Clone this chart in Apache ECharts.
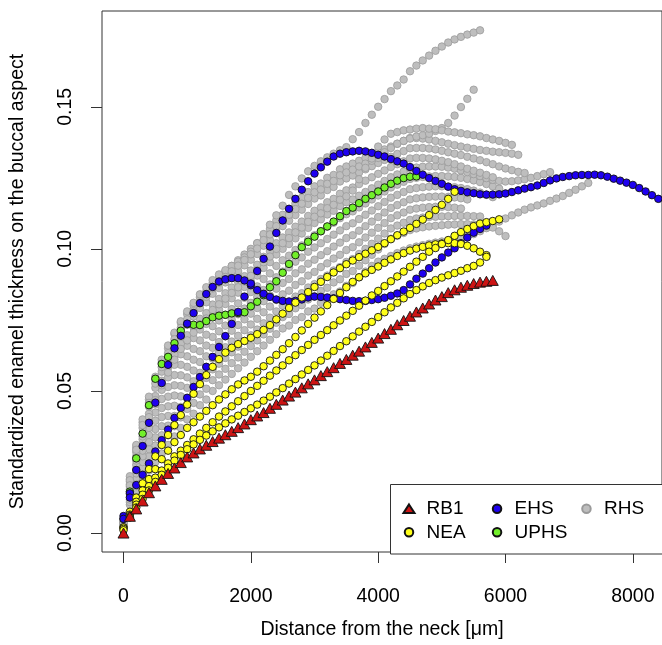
<!DOCTYPE html>
<html><head><meta charset="utf-8">
<script src="https://cdn.jsdelivr.net/npm/echarts@6/dist/echarts.min.js"></script>
<style>html,body{margin:0;padding:0;background:#fff}#c{width:662px;height:645px}</style>
</head><body><div id="c"></div>
<script>
// distance from the neck (µm), sampling positions shared by all profiles
const xs = [0,100,200,300,400,500,600,700,800,900,1000,1100,1200,1300,1400,1500,1600,1700,1800,1900,
2000,2100,2200,2300,2400,2500,2600,2700,2800,2900,3000,3100,3200,3300,3400,3500,3600,3700,3800,3900,
4000,4100,4200,4300,4400,4500,4600,4700,4800,4900,5000,5100,5200,5300,5400,5500,5600,5700,5800,5900,
6000,6100,6200,6300,6400,6500,6600,6700,6800,6900,7000,7100,7200,7300,7400,7500,7600,7700,7800,7900,
8000,8100,8200,8300,8400];
const xTicks = [0,2000,4000,6000,8000];
const yTicks = [0,0.05,0.10,0.15];

// RB1
const rb1 = [0,.0059,.0085,.0113,.0142,.0166,.0189,.0210,.0229,.0248,.0268,.0282,.0296,.0309,.0322,.0334,.0346,.0358,.0371,.0384,
.0399,.0412,.0424,.0439,.0453,.0468,.0482,.0496,.0511,.0525,.0539,.0554,.0568,.0582,.0597,.0611,.0626,.0640,.0655,.0671,
.0686,.0702,.0717,.0733,.0748,.0763,.0778,.0792,.0806,.0820,.0832,.0846,.0856,.0865,.0872,.0878,.0883,.0886,.0889];

// EHS
const ehsA = [.006,.014,.0222,.0306,.0388,.0459,.0528,.0592,.0650,.0694,.0737,.0774,.0809,.0841,.0866,.0885,.0893,.0897,.0897,.0889,
.0872,.0855,.0842,.0831,.0822,.0817,.0815,.0817,.0822,.0829,.0832,.0831,.0829,.0826,.0823,.0820,.0817,.0816,.0817,.0820,
.0823,.0828,.0835,.0843,.0855,.0875,.0895,.0913,.0932,.0952,.0970,.0987,.1002,.1020,.1040,.1057,.1070,.1082];
const ehsB = [.005,.0125,.0169,.0205,.0245,.0287,.0327,.0364,.0405,.0440,.0476,.0514,.0549,.0585,.0620,.0655,.0693,.0736,.0778,.0832,
.0878,.0922,.0965,.1008,.1056,.1100,.1141,.1176,.1208,.1238,.1265,.1287,.1307,.1325,.1335,.1340,.1343,.1345,.1343,.1338,
.1331,.1325,.1316,.1308,.1300,.1288,.1274,.1261,.1249,.1239,.1229,.1219,.1210,.1204,.1199,.1196,.1192,.1191,.1191,.1192,
.1195,.1200,.1206,.1212,.1217,.1223,.1232,.1241,.1248,.1253,.1256,.1259,.1260,.1260,.1261,.1259,.1254,.1247,.1240,.1233,
.1225,.1214,.1202,.1189,.1176];

// UPHS
const uphs = [.005,.0146,.0263,.0350,.0450,.0543,.0595,.0620,.0668,.0712,.0735,.0733,.0732,.0746,.0759,.0765,.0768,.0773,.0774,.0777,
.0798,.0814,.0837,.0865,.0886,.0916,.0947,.0978,.1006,.1025,.1043,.1062,.1079,.1096,.1115,.1133,.1145,.1161,.1176,.1189,
.1202,.1216,.1229,.1240,.1249,.1254,.1255];

// NEA
const nea1 = [.002,.0075,.0125,.0175,.0225,.027,.031,.0345,.038,.0415,.0452,.049,.0524,.0556,.0585,.0612,.0635,.0652,.0665,.0676,
.0687,.0700,.0715,.0732,.0752,.0772,.0792,.0811,.0829,.0848,.0866,.0884,.0901,.0917,.0932,.0946,.0959,.0971,.0983,.0995,
.1007,.1020,.1034,.1048,.1061,.1074,.1088,.1103,.1119,.1137,.1155,.1176,.1201];
const nea2 = [.002,.0065,.011,.015,.019,.0225,.026,.029,.032,.0345,.037,.039,.041,.043,.045,.047,.0488,.0506,.0523,.0537,
.055,.0568,.0587,.0607,.0627,.0647,.0668,.0690,.0713,.0736,.0758,.0780,.0802,.0824,.0845,.0865,.0884,.0900,.0914,.0926,
.0938,.0951,.0963,.0975,.0985,.0994,.1001,.1007,.1012,.1016,.1019,.1020,.1020,.1017,.1011,.1002,.0990,.0978];
const nea3 = [.0015,.006,.010,.0135,.0165,.0195,.022,.0245,.027,.029,.031,.033,.035,.037,.039,.041,.0428,.0446,.0464,.0482,
.050,.0518,.0536,.0554,.0572,.059,.0608,.0626,.0644,.0662,.068,.0697,.0714,.0731,.0748,.0765,.0782,.0800,.0818,.0836,
.0852,.0869,.0886,.0903,.092,.0937,.0955,.0972,.0990,.1003,.1017,.1031,.1046,.1059,.1070,.1080,.1089,.1094,.1098,.1104];
const nea4 = [.001,.0055,.009,.012,.015,.018,.0205,.023,.0255,.0275,.0295,.0312,.0328,.0343,.0358,.0372,.0386,.040,.0413,.0426,
.0439,.0452,.0466,.0480,.0495,.051,.0526,.0542,.0558,.0574,.059,.0607,.0624,.0641,.0658,.0675,.0692,.0709,.0726,.0743,
.076,.0777,.0794,.081,.0826,.0841,.0855,.0868,.088,.089,.0899,.0907,.0915,.0923,.0932,.094,.0952,.0972];

// RHS
const rhs0 = [.002,.010,.015,.019,.022,.025,.028,.031,.034,.037,.040,.042,.045,.047,.050,.052,.054,.056,.058,.060,
.062,.064,.066,.068,.070,.072,.073,.075,.076,.078,.079,.081,.082,.084,.085,.087,.088,.090,.092,.094,
.0955,.0965,.0975,.0985,.0994,.1002,.1008,.1013,.1018,.1022,.1026,.103,.1034,.1039,.1045,.1052,.1062,.1073,.1085,.1096,
.1107,.1118,.1128,.1138,.1146,.1153,.116,.1169,.1177,.1186,.1197,.1208,.122,.1232];
const rhs1 = [.0022,.0109,.0165,.021,.0245,.0279,.0312,.0344,.0376,.0407,.0437,.0458,.0488,.0508,.0538,.0558,.0578,.0598,.0618,.0638,
.0658,.0678,.0699,.0719,.074,.076,.0771,.0791,.0802,.0822,.0833,.0852,.0863,.0882,.0893,.0912,.0922,.0941,.096,.0979,
.0998,.1017,.1036,.1046,.1056,.1066,.1072,.1076,.1079,.1081,.1083,.1085,.1086,.1087,.1087,.1086,.1084,.108,.1075,.1062,.1045];
const rhs2 = [.0024,.0118,.018,.023,.027,.0308,.0344,.0378,.0412,.0444,.0474,.0496,.0526,.0546,.0576,.0596,.0616,.0636,.0656,.0676,
.0696,.0716,.0738,.0758,.078,.080,.0812,.0832,.0844,.0864,.0876,.0894,.0906,.0924,.0936,.0954,.0964,.0982,.100,.1018,
.1036,.1054,.1072,.1082,.1092,.1102,.1107,.111,.1112,.1113,.1114,.1115,.1116,.1116,.1116,.1115,.1114];
const rhs3 = [.0026,.0127,.0195,.025,.0295,.0337,.0376,.0412,.0448,.0481,.0511,.0534,.0564,.0584,.0614,.0634,.0654,.0674,.0694,.0714,
.0734,.0754,.0777,.0797,.082,.084,.0853,.0873,.0886,.0906,.0919,.0936,.0949,.0966,.0979,.0996,.1006,.1023,.104,.1057,
.1074,.1091,.1108,.1118,.1128,.1138,.1142,.1145,.1147,.1148,.1148,.1147,.1145,.1142];
const rhs4 = [.0028,.0136,.021,.027,.032,.0366,.0408,.0446,.0484,.0518,.0548,.0572,.0602,.0622,.0652,.0672,.0692,.0712,.0732,.0752,
.0772,.0792,.0816,.0836,.086,.088,.0894,.0914,.0928,.0948,.0962,.0978,.0992,.1008,.1022,.1038,.1048,.1064,.108,.1096,
.1112,.1128,.1144,.1154,.1164,.1174,.1178,.1181,.1183,.1184,.1184,.1183,.1181,.1178,.1174];
const rhs5 = [.003,.0145,.0225,.029,.0345,.0395,.044,.048,.052,.0555,.0585,.061,.064,.066,.069,.071,.073,.075,.077,.079,
.081,.083,.0855,.0875,.090,.092,.0935,.0955,.097,.099,.1005,.102,.1035,.105,.1065,.108,.109,.1105,.112,.1135,
.115,.1165,.118,.119,.120,.121,.1214,.1217,.1219,.122,.122,.1219,.1217,.1214,.121,.1205,.1198,.119,.1182];
const rhs6 = [.0032,.0154,.024,.031,.037,.0424,.0472,.0514,.0556,.0592,.0622,.0648,.0678,.0698,.0728,.0748,.0768,.0788,.0808,.0828,
.0848,.0868,.0894,.0914,.094,.096,.0976,.0996,.1012,.1032,.1048,.1062,.1078,.1092,.1108,.1122,.1132,.1146,.116,.1174,
.1188,.1202,.1216,.1226,.1236,.1246,.125,.1253,.1255,.1256,.1256,.1255,.1253,.125,.1246,.1241,.1235,.1228,.122,.1212];
const rhs7 = [.0034,.0163,.0255,.033,.0395,.0453,.0504,.0548,.0592,.0629,.0659,.0686,.0716,.0736,.0766,.0786,.0806,.0826,.0846,.0866,
.0886,.0906,.0933,.0953,.098,.100,.1017,.1037,.1054,.1074,.1091,.1104,.1121,.1134,.1151,.1164,.1174,.1187,.120,.1213,
.1226,.1239,.1252,.1262,.1272,.1282,.1286,.1289,.129,.129,.1289,.1286,.1282,.1276,.127,.1263,.1256,.1249,.1243,.1239,
.1237,.1238,.1241,.1245,.125,.1256,.1263,.127];
const rhs8 = [.0036,.0172,.027,.035,.042,.0482,.0536,.0582,.0628,.0666,.0696,.0724,.0754,.0774,.0804,.0824,.0844,.0864,.0884,.0904,
.0924,.0944,.0972,.0992,.102,.104,.1058,.1078,.1096,.1116,.1134,.1146,.1164,.1176,.1194,.1206,.1216,.1228,.124,.1252,
.1264,.1276,.1288,.1298,.1308,.1318,.132,.132,.1318,.1315,.131,.1305,.1298,.129,.1282,.1275,.1268,.126,.1252];
const rhs9 = [.0038,.0181,.0285,.037,.0445,.0511,.0568,.0616,.0664,.0703,.0733,.0762,.0792,.0812,.0842,.0862,.0882,.0902,.0922,.0942,
.0962,.0982,.1011,.1031,.106,.108,.1099,.1119,.1138,.1158,.1177,.1188,.1207,.1218,.1237,.1248,.1258,.1269,.128,.1291,
.1302,.1313,.1324,.1334,.1344,.1354,.1355,.1355,.1353,.135,.1345,.134,.1335,.133,.1324,.1318,.1312,.1305,.1298,.129,
.1283,.1277,.1271,.1267];
const rhs10 = [.004,.019,.030,.039,.047,.054,.060,.065,.070,.074,.077,.080,.083,.085,.088,.090,.092,.094,.096,.098,
.100,.102,.105,.107,.110,.112,.114,.116,.118,.120,.122,.123,.125,.126,.128,.129,.130,.131,.132,.133,
.134,.135,.136,.137,.138,.139,.139,.1388,.1385,.138,.1375,.137,.1365,.136,.1356,.1352,.1348,.1345,.1342,.134,
.1338,.1335,.1331];
const rhs11 = [.004,.020,.031,.040,.048,.055,.061,.066,.0705,.0745,.078,.081,.084,.0865,.089,.091,.0925,.094,.0955,.097,
.099,.102,.1052,.1085,.1118,.1152,.119,.122,.1248,.1273,.1292,.1308,.1322,.1335,.1347,.1358,.1386,.1411,.1443,.1472,
.150,.1527,.1555,.1575,.1596,.1625,.1645,.1663,.168,.1697,.1712,.1726,.1737,.1746,.1754,.1761,.1769];
const rhs12 = [.0039,.0186,.0293,.038,.0458,.0526,.0584,.0633,.0682,.0722,.0752,.0781,.0811,.0831,.0861,.0881,.0901,.0921,.0941,.0961,
.0981,.1001,.1031,.1051,.108,.110,.112,.114,.1159,.1179,.1199,.1209,.1229,.1239,.1259,.1269,.1279,.129,.130,.131,
.132,.134,.1355,.137,.138,.1388,.1395,.140,.1405,.1415,.1425,.1443,.1469,.1499,.1528,.156];
const rhs13 = [.0035,.0168,.0263,.034,.0408,.0468,.052,.0565,.061,.0648,.0678,.0705,.0735,.0755,.0785,.0805,.0825,.0845,.0865,.0885,
.0905,.0925,.0953,.0973,.100,.102,.1038,.1058,.1075,.1095,.1113,.1125,.1143,.1155,.1173,.1185,.1205,.1245,.1285,.1318,
.136,.1385,.1405,.1411,.1417,.142,.1423,.1425,.1423,.1421,.1417,.1413,.141,.1407,.1403,.140,.1396,.139,.1385,.138,
.1373,.1366];

const rhsCurves = [rhs0,rhs1,rhs2,rhs3,rhs4,rhs5,rhs6,rhs7,rhs8,rhs9,rhs10,rhs11,rhs12,rhs13];
const neaCurves = [nea1,nea2,nea3,nea4];
const ehsCurves = [ehsA,ehsB];

function pts(ys){ return ys.map((y,i)=>[xs[i],y]); }
function group(curves){ return [].concat(...curves.map(pts)); }

const FONT = "'Liberation Sans', Arial, Helvetica, sans-serif";
const chart = echarts.init(document.getElementById('c'), null, {renderer:'canvas'});
const legText = {fontSize:19, color:'#000', fontFamily:FONT, padding:[0,0,0,7], lineHeight:20};
function leg(names, left){
  return {data:names, left:left, top:498.7, orient:'vertical', itemWidth:11, itemHeight:8.5,
    itemGap:3.6, padding:0, selectedMode:false, z:60, textStyle:legText};
}
chart.setOption({
  animation:false,
  backgroundColor:'#fff',
  grid:{left:97, right:0, top:11, bottom:91, show:true, borderColor:'#333', borderWidth:1, backgroundColor:'transparent'},
  xAxis:{type:'value', min:-338, max:8458,
    axisLine:{show:false, onZero:false},
    axisTick:{show:true, customValues:xTicks, length:11, lineStyle:{color:'#333', width:1}},
    axisLabel:{customValues:xTicks, margin:35, fontSize:19.5, color:'#000', fontFamily:FONT,
      formatter:v=>String(v)},
    splitLine:{show:false},
    name:'Distance from the neck [\u03bcm]', nameLocation:'middle', nameGap:68,
    nameTextStyle:{fontSize:19.5, color:'#000', fontFamily:FONT}},
  yAxis:{type:'value', min:-0.00666, max:0.1837,
    axisLine:{show:false, onZero:false},
    axisTick:{show:true, customValues:yTicks, length:11, lineStyle:{color:'#333', width:1}},
    axisLabel:{customValues:yTicks, rotate:90, margin:26, fontSize:19.5, color:'#000', fontFamily:FONT,
      formatter:v=>v.toFixed(2)},
    splitLine:{show:false},
    name:'Standardized enamel thickness on the buccal aspect', nameLocation:'middle', nameGap:74,
    nameTextStyle:{fontSize:19.5, color:'#000', fontFamily:FONT}},
  graphic:[{type:'rect', z:50, shape:{x:390.5, y:484.5, width:320, height:69.5},
    style:{fill:'#fff', stroke:'#333', lineWidth:1}}],
  legend:[ leg(['RB1','NEA'], 402.5), leg(['EHS','UPHS'], 491.8), leg(['RHS'], 581.2) ],
  series:[
    {name:'RHS', type:'scatter', symbol:'circle', symbolSize:7.5, data:group(rhsCurves),
     itemStyle:{color:'#bebebe', borderColor:'#9a9a9a', borderWidth:0.8, opacity:1}, silent:true},
    {name:'UPHS', type:'scatter', symbol:'circle', symbolSize:7.5, data:pts(uphs),
     itemStyle:{color:'#72f02a', borderColor:'#111', borderWidth:0.9, opacity:1}, silent:true},
    {name:'EHS', type:'scatter', symbol:'circle', symbolSize:7.5, data:group(ehsCurves),
     itemStyle:{color:'#1e00f0', borderColor:'#111', borderWidth:0.9, opacity:1}, silent:true},
    {name:'NEA', type:'scatter', symbol:'circle', symbolSize:7.5, data:group(neaCurves),
     itemStyle:{color:'#ffff1a', borderColor:'#111', borderWidth:0.9, opacity:1}, silent:true},
    {name:'RB1', type:'scatter', symbol:'triangle', symbolSize:[11,10], data:pts(rb1),
     itemStyle:{color:'#cd1414', borderColor:'#111', borderWidth:0.9, opacity:1}, silent:true}
  ]
});
</script></body></html>
